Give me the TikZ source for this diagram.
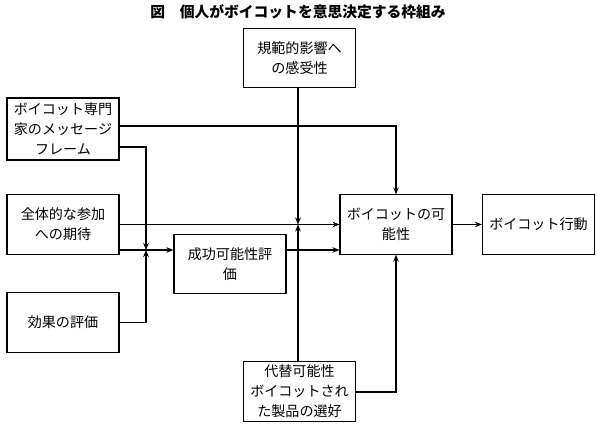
\documentclass[tikz,border=0pt]{standalone}
\usepackage{fontspec}
\setmainfont{Noto Sans CJK JP}
\usetikzlibrary{arrows.meta}

\begin{document}
\begin{tikzpicture}[
    x=0.025cm, y=-0.025cm,
    >={Stealth[length=5pt,width=4pt]},
    box/.style={draw, rectangle, line width=0.8pt, minimum width=2.8cm, minimum height=1.48cm, align=center, font=\fontsize{10}{14.2}\selectfont, inner sep=1pt},
    arrow/.style={->, line width=0.8pt}
]
  \useasboundingbox (0,0) rectangle (597,426);

  % Title
  \node[font=\fontsize{10.5}{12}\selectfont\bfseries] (title) at (298,12) {図　個人がボイコットを意思決定する枠組み};

  \node[box] (norm)    at (299.5,58)    {規範的影響へ\\の感受性};
  \node[box, minimum height=1.55cm] (expert) at (63,129) {ボイコット専門\\家のメッセージ\\フレーム};
  \node[box] (overall) at (63,224.5)    {全体的な参加\\への期待};
  \node[box] (effect)  at (63,322.5)    {効果の評価};
  \node[box] (success) at (230,264)     {成功可能性評\\価};
  \node[box] (likely)  at (396,224.5)   {ボイコットの可\\能性};
  \node[box] (action)  at (538.5,224.5) {ボイコット行動};
  \node[box] (alt)     at (299.5,391.5) {代替可能性\\ボイコットされ\\た製品の選好};

  % Junctions
  \coordinate (jl) at (146,250);
  \coordinate (jc) at (298,224.5);

  \draw[arrow] (expert.east |- 0,126) -| (likely.north);
  \draw[arrow] (expert.east |- 0,147) -| (jl);
  \draw[arrow] (effect.east) -| (jl);
  \draw[arrow] (overall.east |- jl) -- (success.west |- jl);
  \draw[arrow] (overall.east) -- (likely.west);
  \draw[arrow] (success.east |- jl) -- (likely.west |- jl);
  \draw[arrow] (norm.south -| jc) -- (jc);
  \draw[arrow] (alt.north -| jc) -- (jc);
  \draw[arrow] (likely) -- (action);
  \draw[arrow] (alt.east |- 0,392) -| (likely.south);
\end{tikzpicture}
\end{document}
